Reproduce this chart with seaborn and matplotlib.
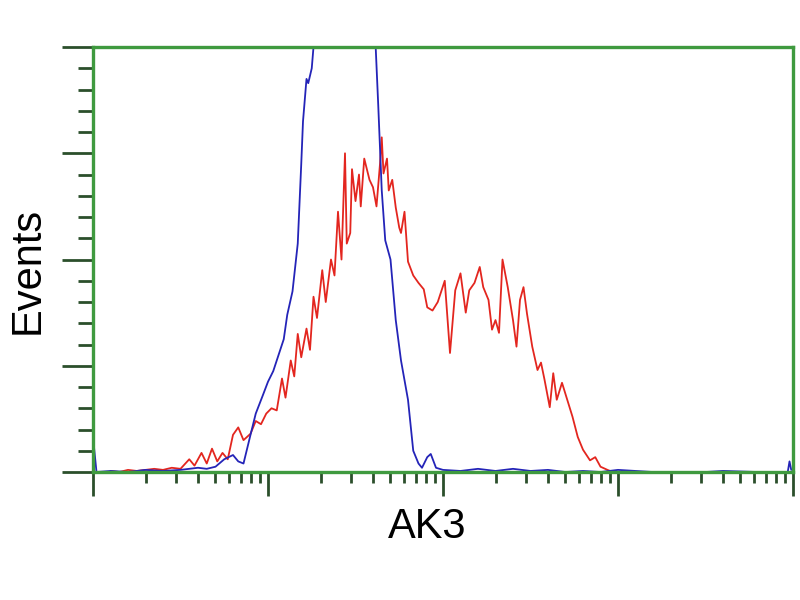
import numpy as np
import pandas as pd
import seaborn as sns
import matplotlib
matplotlib.use('Agg')
import matplotlib.pyplot as plt
from matplotlib.ticker import MultipleLocator, LogLocator, NullFormatter

# fluorescence position in decades (log10), counts per channel
blue_dec = [0.00, 0.02, 0.10, 0.20, 0.30, 0.40, 0.50, 0.55, 0.60, 0.65, 0.70, 0.75, 0.80,
            0.83, 0.86, 0.90, 0.93, 0.97, 1.00, 1.03, 1.06, 1.09, 1.11, 1.14, 1.17, 1.19,
            1.20, 1.22, 1.23, 1.25, 1.27, 1.30, 1.40, 1.50, 1.58, 1.61, 1.63, 1.65, 1.67,
            1.70, 1.73, 1.76, 1.80, 1.83, 1.86, 1.88, 1.91, 1.93, 1.96, 2.00, 2.10, 2.20,
            2.30, 2.40, 2.50, 2.60, 2.70, 2.80, 2.90, 3.00, 3.20, 3.50, 3.60, 3.80, 3.97,
            3.98, 3.99]
blue_cnt = [33, 0, 1, 0, 2, 1, 2, 3, 4, 3, 5, 12, 16,
            10, 8, 35, 55, 72, 85, 95, 110, 125, 148, 170, 215, 290,
            330, 370, 366, 380, 420, 520, 600, 600, 520, 420, 345, 265, 218,
            200, 143, 105, 68, 20, 8, 4, 14, 17, 4, 2, 1, 3,
            1, 3, 1, 2, 0, 1, 0, 2, 0, 0, 1, 0, 0,
            10, 2]

red_dec = [0.10, 0.15, 0.20, 0.25, 0.30, 0.35, 0.40, 0.45, 0.50, 0.55, 0.58, 0.62, 0.65,
           0.68, 0.71, 0.74, 0.77, 0.80, 0.83, 0.86, 0.90, 0.93, 0.96, 0.99, 1.02, 1.05,
           1.08, 1.10, 1.13, 1.15, 1.17, 1.19, 1.22, 1.24, 1.26, 1.28, 1.31, 1.33, 1.36,
           1.38, 1.40, 1.42, 1.44, 1.45, 1.47, 1.48, 1.50, 1.52, 1.53, 1.55, 1.58, 1.60,
           1.62, 1.64, 1.65, 1.66, 1.68, 1.69, 1.71, 1.73, 1.75, 1.76, 1.78, 1.80, 1.83,
           1.86, 1.89, 1.91, 1.94, 1.97, 2.01, 2.04, 2.07, 2.10, 2.13, 2.15, 2.18, 2.21,
           2.23, 2.26, 2.28, 2.30, 2.32, 2.34, 2.37, 2.40, 2.42, 2.44, 2.46, 2.48, 2.51,
           2.54, 2.56, 2.58, 2.61, 2.63, 2.65, 2.68, 2.71, 2.74, 2.77, 2.80, 2.84, 2.87,
           2.90, 2.94, 2.97, 3.00]
red_cnt = [1, 0, 2, 1, 2, 3, 2, 4, 3, 12, 6, 18, 8,
           22, 10, 18, 12, 35, 42, 30, 36, 48, 45, 55, 60, 58,
           88, 70, 105, 90, 130, 108, 135, 115, 165, 145, 190, 160, 200,
           185, 245, 200, 300, 215, 225, 285, 255, 280, 250, 295, 275, 268,
           250, 290, 315, 281, 295, 265, 275, 249, 230, 225, 245, 198, 185,
           178, 172, 155, 152, 160, 180, 112, 171, 187, 150, 171, 178, 193,
           174, 162, 134, 143, 131, 200, 174, 143, 118, 162, 174, 149, 118,
           96, 103, 87, 61, 93, 68, 84, 68, 52, 33, 21, 11, 14,
           5, 2, 0, 0]

blue = pd.DataFrame({'x': np.power(10.0, blue_dec), 'y': blue_cnt})
red = pd.DataFrame({'x': np.power(10.0, red_dec), 'y': red_cnt})

sns.set_style('white')
plt.rcParams['font.family'] = ['Liberation Sans', 'DejaVu Sans']

green = '#3f9a3f'
tickc = '#2b4f2b'

fig = plt.figure(figsize=(8, 6), dpi=100)
ax = fig.add_axes([0.11625, 0.2133, 0.875, 0.7083])

sns.lineplot(data=red, x='x', y='y', ax=ax, color='#e3261f', lw=1.3, estimator=None, sort=False)
sns.lineplot(data=blue, x='x', y='y', ax=ax, color='#2424b8', lw=1.3, estimator=None, sort=False)

ax.set_xscale('log')
ax.set_xlim(1, 1e4)
ax.set_ylim(0, 400)

ax.xaxis.set_minor_locator(LogLocator(base=10, subs=range(2, 10)))
ax.xaxis.set_minor_formatter(NullFormatter())
ax.yaxis.set_major_locator(MultipleLocator(100))
ax.yaxis.set_minor_locator(MultipleLocator(20))

ax.tick_params(which='major', direction='out', length=17, width=2, color=tickc,
               bottom=True, left=True, labelbottom=False, labelleft=False)
ax.tick_params(which='minor', direction='out', length=8, width=2, color=tickc,
               bottom=True, left=True)
ax.tick_params(axis='y', which='major', length=22)
ax.tick_params(axis='y', which='minor', length=11)

for s in ax.spines.values():
    s.set_color(green)
    s.set_linewidth(2.4)

ax.set_xlabel('AK3', fontsize=30, va='center', color='black')
ax.set_ylabel('Events', fontsize=30, va='center', color='black')
ax.xaxis.set_label_coords(0.477, -0.13)
ax.yaxis.set_label_coords(-0.094, 0.475)

fig.savefig('out.png', dpi=100)
